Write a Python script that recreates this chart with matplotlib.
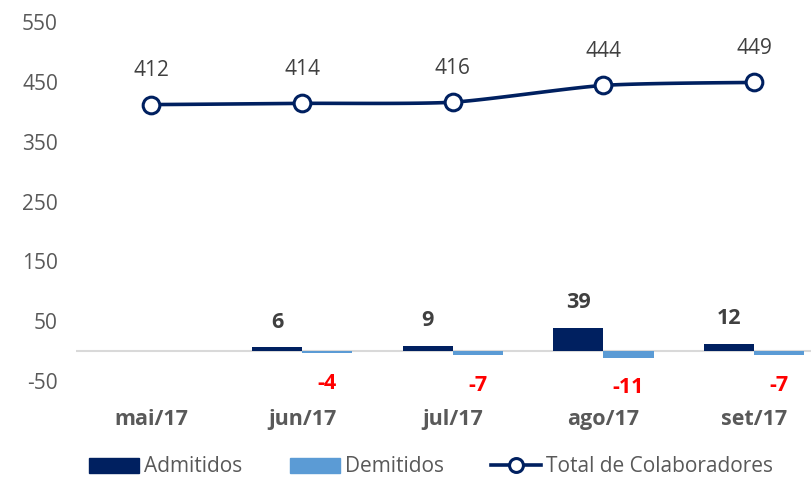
import numpy as np
import matplotlib
matplotlib.use("Agg")
import matplotlib.pyplot as plt
from matplotlib.lines import Line2D
from matplotlib.patches import Patch

categories = ["mai/17", "jun/17", "jul/17", "ago/17", "set/17"]
admitidos = [np.nan, 6, 9, 39, 12]
demitidos = [np.nan, -4, -7, -11, -7]
total = [412, 414, 416, 444, 449]
yticks = [-50, 50, 150, 250, 350, 450, 550]

plt.rcParams['font.family'] = ['Open Sans', 'DejaVu Sans']

W, H = 811, 478
fig = plt.figure(figsize=(W / 100, H / 100), dpi=100)
left_px, right_px = 76, 829.5
bot_px, top_px = 381, 22
ax = fig.add_axes([left_px / W, 1 - bot_px / H, (right_px - left_px) / W, (bot_px - top_px) / H])

x = np.arange(len(categories))
bw = 0.333
navy = "#002060"
light = "#5B9BD5"

ax.bar(x - bw / 2, admitidos, width=bw, color=navy, zorder=2)
ax.bar(x + bw / 2, demitidos, width=bw, color=light, zorder=2)
ax.axhline(0, color="#D9D9D9", lw=1.5, zorder=1)

# Catmull-Rom smoothing of line (Excel smoothed line)
def catmull(xs, ys, n=30):
    px = np.concatenate([[2 * xs[0] - xs[1]], xs, [2 * xs[-1] - xs[-2]]])
    py = np.concatenate([[ys[0]], ys, [ys[-1]]])
    ox, oy = [], []
    for i in range(1, len(px) - 2):
        t = np.linspace(0, 1, n)
        for arr, out in ((px, ox), (py, oy)):
            p0, p1, p2, p3 = arr[i - 1], arr[i], arr[i + 1], arr[i + 2]
            m1 = (p2 - p0) / 2 * (1 / 1.5)
            m2 = (p3 - p1) / 2 * (1 / 1.5)
            h00 = 2 * t**3 - 3 * t**2 + 1
            h10 = t**3 - 2 * t**2 + t
            h01 = -2 * t**3 + 3 * t**2
            h11 = t**3 - t**2
            out.extend(h00 * p1 + h10 * m1 + h01 * p2 + h11 * m2)
    return np.array(ox), np.array(oy)

tv = np.array(total, dtype=float)
sx, sy = catmull(x.astype(float), tv)
ax.plot(sx, sy, color=navy, lw=2.6, zorder=3, solid_capstyle="round")
ax.plot(x, tv, linestyle="none", marker="o", ms=12, mfc="white", mec=navy, mew=2.2, zorder=4)

px_per_unit = (bot_px - top_px) / 600.0
def du(px):
    return px / px_per_unit

for xi, v in zip(x, total):
    ax.text(xi, v + du(34), f"{v}", ha="center", va="center", fontsize=15, color="#404040", zorder=5)
for xi, v in zip(x, admitidos):
    if not np.isnan(v):
        ax.text(xi - bw / 2, v + du(25), f"{int(v)}", ha="center", va="center", fontsize=15.5,
                fontweight="bold", color="#404040")
for xi, v in zip(x, demitidos):
    if not np.isnan(v):
        ax.text(xi + bw / 2, v - du(30), f"{int(v)}", ha="center", va="center", fontsize=15.5,
                fontweight="bold", color="#FF0000")

ax.set_xlim(-0.5, len(categories) - 0.5)
ax.set_ylim(-50, 550)
ax.set_yticks(yticks)
ax.set_yticklabels([str(t) for t in yticks])
ax.set_xticks(x)
ax.set_xticklabels(categories, fontweight="bold")
for s in ax.spines.values():
    s.set_visible(False)
ax.tick_params(axis="y", length=0, pad=13, labelsize=15, labelcolor="#595959")
ax.tick_params(axis="x", length=0, pad=20, labelsize=15.5, labelcolor="#595959")
ax.grid(False)

handles = [
    Patch(facecolor=navy, edgecolor=navy),
    Patch(facecolor=light, edgecolor=light),
    Line2D([0], [0], color=navy, lw=2.6, marker="o", ms=10, mfc="white", mec=navy, mew=2.2),
]
labels = ["Admitidos", "Demitidos", "Total de Colaboradores"]
fig.legend(handles, labels, loc="center", bbox_to_anchor=(431 / W, 1 - 467 / H), ncol=3,
           frameon=False, fontsize=15, labelcolor="#595959", handlelength=2.4, handleheight=0.75,
           handletextpad=0.25, columnspacing=2.25)

fig.savefig("out.png", dpi=100)
